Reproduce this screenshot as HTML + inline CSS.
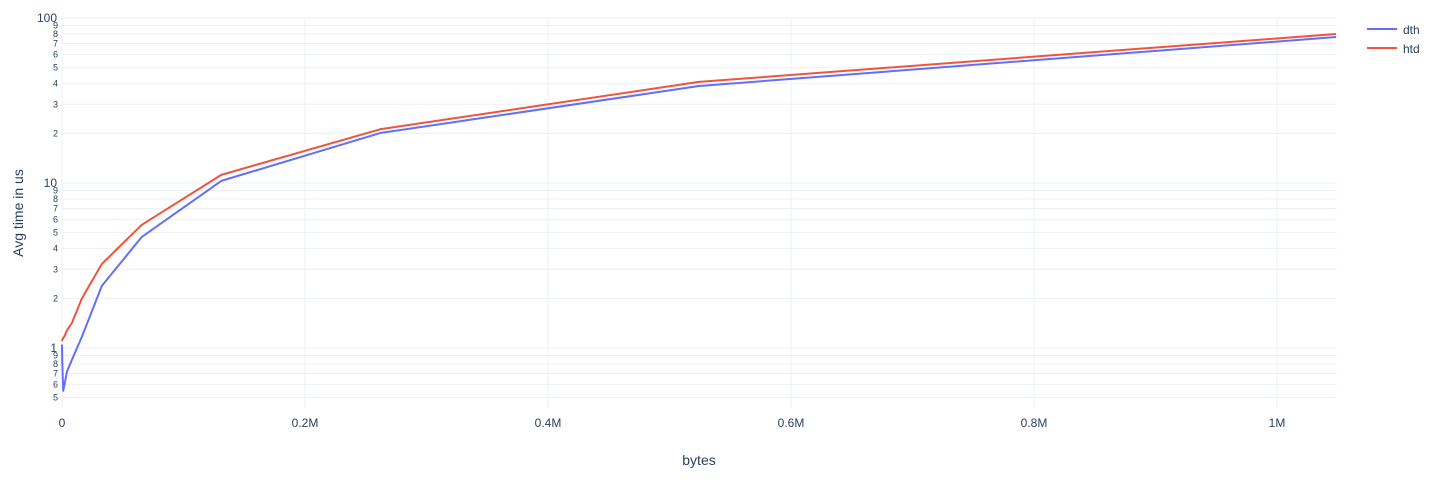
<!DOCTYPE html>
<html><head><meta charset="utf-8"><style>
body{margin:0;background:#fff;font-family:"Liberation Sans",sans-serif}
text{font-family:"Liberation Sans",sans-serif}
</style></head><body>
<svg id="c" width="1432" height="480"></svg>
<script>
const xs=[1,256,1024,2048,4096,8192,16384,32768,65536,131072,262144,524288,1048576];
const dth=[1.05,0.8,0.55,0.6,0.72,0.85,1.17,2.38,4.7,10.3,20.1,38.7,76.7];
const htd=[1.1,1.12,1.15,1.18,1.28,1.42,2.0,3.23,5.57,11.2,21.2,41,80];
const xTicks=[0,200000,400000,600000,800000,1000000];
const xTickLabels=['0','0.2M','0.4M','0.6M','0.8M','1M'];
const yMajor=[1,10,100];
const NS='http://www.w3.org/2000/svg';
const svg=document.getElementById('c');
const L=62,R=1337,T=18,B=408;
const xf=v=>L+v*(1215/1000000);
const yf=v=>348-Math.log10(v)*165;
function mk(t,a,p){const e=document.createElementNS(NS,t);for(const k in a)e.setAttribute(k,a[k]);(p||svg).appendChild(e);return e;}
for(const t of xTicks){
 const g=mk('line',{x1:xf(t),x2:xf(t),y1:T,y2:B,stroke:'#ebf0f8'});
 
 
}
xTicks.forEach((t,i)=>{
 const e=mk('text',{x:xf(t),y:427,'text-anchor':'middle','font-size':12,fill:'#2a3f5f'});
 e.textContent=xTickLabels[i];
 
 
});
for(const d of [0.1,1,10,100]){
 for(const m of [1,2,3,4,5,6,7,8,9]){
  const v=d*m; if(v<0.43||v>100.5)continue;
  const g=mk('line',{x1:L,x2:R,y1:yf(v),y2:yf(v),stroke:'#ebf0f8'});
  
  
  const major=yMajor.includes(Math.round(v*1000)/1000);
  const lab=major?String(Math.round(v)):String(m);
  const e=mk('text',{x:major?57:58,y:yf(v)+(major?4:3),'text-anchor':'end','font-size':major?12:9,fill:'#2a3f5f'});
  e.textContent=lab;
  
  
 }
}
function line(ys,col,name){
 const p=mk('polyline',{points:xs.map((x,i)=>xf(x)+','+yf(ys[i])).join(' '),fill:'none',stroke:col,'stroke-width':2,'stroke-linejoin':'round'});
 
 
}
line(dth,'#636efa','dth-line');
line(htd,'#ef553b','htd-line');
const xt=mk('text',{x:699,y:465,'text-anchor':'middle','font-size':14,fill:'#2a3f5f'});xt.textContent='bytes';


const yt=mk('text',{x:23,y:213,'text-anchor':'middle','font-size':14,fill:'#2a3f5f',transform:'rotate(-90 23 213)'});yt.textContent='Avg time in us';


[['dth','#636efa',29],['htd','#ef553b',48]].forEach(([n,c,y])=>{
 const g=mk('g',{});
 
 
 mk('line',{x1:1367,x2:1397,y1:y,y2:y,stroke:c,'stroke-width':2},g);
 const t=mk('text',{x:1403,y:y+5,'font-size':12,fill:'#2a3f5f'},g);t.textContent=n;
});
</script>
</body></html>
